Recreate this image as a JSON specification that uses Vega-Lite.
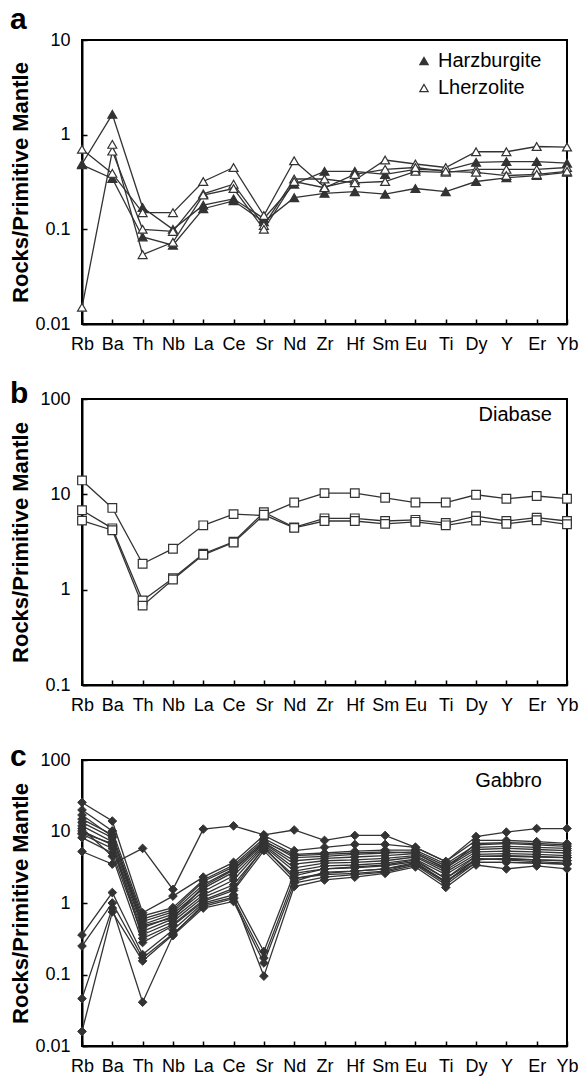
{
  "$schema": "https://vega.github.io/schema/vega-lite/v6.json",
  "background": "white",
  "padding": {"left": 7, "top": 4, "right": 3, "bottom": 0},
  "spacing": 75,
  "bounds": "flush",
  "config": {
    "font": "Liberation Sans",
    "view": {"stroke": "black", "strokeWidth": 2},
    "axis": {
      "domainColor": "black", "domainWidth": 2, "tickColor": "black", "tickWidth": 1.5,
      "labelFont": "Liberation Sans", "labelFontSize": 18, "labelColor": "black",
      "titleFont": "Liberation Sans", "titleFontSize": 22, "titleFontWeight": "bold", "titleColor": "black",
      "grid": false
    },
    "axisX": {"labelAngle": 0, "labelOverlap": false, "tickSize": -5, "labelPadding": 16, "title": null},
    "axisY": {"tickSize": -5, "labelPadding": 17, "format": "~g", "titleX": -50},
    "title": {"anchor": "start", "frame": "group", "dx": -72, "fontSize": 30, "fontWeight": "bold", "font": "Liberation Sans", "color": "black", "baseline": "alphabetic", "offset": 0}
  },
  "datasets": {
    "a": [
      {"s":"H1","t":"Harzburgite","el":"Rb","v":0.49},{"s":"H1","t":"Harzburgite","el":"Ba","v":1.64},{"s":"H1","t":"Harzburgite","el":"Th","v":0.17},{"s":"H1","t":"Harzburgite","el":"Nb","v":0.10},{"s":"H1","t":"Harzburgite","el":"La","v":0.18},{"s":"H1","t":"Harzburgite","el":"Ce","v":0.21},{"s":"H1","t":"Harzburgite","el":"Sr","v":0.13},{"s":"H1","t":"Harzburgite","el":"Nd","v":0.30},{"s":"H1","t":"Harzburgite","el":"Zr","v":0.41},{"s":"H1","t":"Harzburgite","el":"Hf","v":0.41},{"s":"H1","t":"Harzburgite","el":"Sm","v":0.38},{"s":"H1","t":"Harzburgite","el":"Eu","v":0.43},{"s":"H1","t":"Harzburgite","el":"Ti","v":0.42},{"s":"H1","t":"Harzburgite","el":"Dy","v":0.51},{"s":"H1","t":"Harzburgite","el":"Y","v":0.52},{"s":"H1","t":"Harzburgite","el":"Er","v":0.52},{"s":"H1","t":"Harzburgite","el":"Yb","v":0.50},
      {"s":"H2","t":"Harzburgite","el":"Rb","v":0.48},{"s":"H2","t":"Harzburgite","el":"Ba","v":0.345},{"s":"H2","t":"Harzburgite","el":"Th","v":0.083},{"s":"H2","t":"Harzburgite","el":"Nb","v":0.068},{"s":"H2","t":"Harzburgite","el":"La","v":0.165},{"s":"H2","t":"Harzburgite","el":"Ce","v":0.20},{"s":"H2","t":"Harzburgite","el":"Sr","v":0.12},{"s":"H2","t":"Harzburgite","el":"Nd","v":0.216},{"s":"H2","t":"Harzburgite","el":"Zr","v":0.24},{"s":"H2","t":"Harzburgite","el":"Hf","v":0.25},{"s":"H2","t":"Harzburgite","el":"Sm","v":0.235},{"s":"H2","t":"Harzburgite","el":"Eu","v":0.27},{"s":"H2","t":"Harzburgite","el":"Ti","v":0.25},{"s":"H2","t":"Harzburgite","el":"Dy","v":0.32},{"s":"H2","t":"Harzburgite","el":"Y","v":0.35},{"s":"H2","t":"Harzburgite","el":"Er","v":0.37},{"s":"H2","t":"Harzburgite","el":"Yb","v":0.40},
      {"s":"L1","t":"Lherzolite","el":"Rb","v":0.70},{"s":"L1","t":"Lherzolite","el":"Ba","v":0.39},{"s":"L1","t":"Lherzolite","el":"Th","v":0.15},{"s":"L1","t":"Lherzolite","el":"Nb","v":0.15},{"s":"L1","t":"Lherzolite","el":"La","v":0.32},{"s":"L1","t":"Lherzolite","el":"Ce","v":0.45},{"s":"L1","t":"Lherzolite","el":"Sr","v":0.14},{"s":"L1","t":"Lherzolite","el":"Nd","v":0.53},{"s":"L1","t":"Lherzolite","el":"Zr","v":0.28},{"s":"L1","t":"Lherzolite","el":"Hf","v":0.33},{"s":"L1","t":"Lherzolite","el":"Sm","v":0.54},{"s":"L1","t":"Lherzolite","el":"Eu","v":0.49},{"s":"L1","t":"Lherzolite","el":"Ti","v":0.45},{"s":"L1","t":"Lherzolite","el":"Dy","v":0.66},{"s":"L1","t":"Lherzolite","el":"Y","v":0.66},{"s":"L1","t":"Lherzolite","el":"Er","v":0.75},{"s":"L1","t":"Lherzolite","el":"Yb","v":0.74},
      {"s":"L2","t":"Lherzolite","el":"Rb","v":0.015},{"s":"L2","t":"Lherzolite","el":"Ba","v":0.67},{"s":"L2","t":"Lherzolite","el":"Th","v":0.10},{"s":"L2","t":"Lherzolite","el":"Nb","v":0.095},{"s":"L2","t":"Lherzolite","el":"La","v":0.237},{"s":"L2","t":"Lherzolite","el":"Ce","v":0.30},{"s":"L2","t":"Lherzolite","el":"Sr","v":0.11},{"s":"L2","t":"Lherzolite","el":"Nd","v":0.34},{"s":"L2","t":"Lherzolite","el":"Zr","v":0.34},{"s":"L2","t":"Lherzolite","el":"Hf","v":0.31},{"s":"L2","t":"Lherzolite","el":"Sm","v":0.32},{"s":"L2","t":"Lherzolite","el":"Eu","v":0.41},{"s":"L2","t":"Lherzolite","el":"Ti","v":0.40},{"s":"L2","t":"Lherzolite","el":"Dy","v":0.43},{"s":"L2","t":"Lherzolite","el":"Y","v":0.43},{"s":"L2","t":"Lherzolite","el":"Er","v":0.43},{"s":"L2","t":"Lherzolite","el":"Yb","v":0.45},
      {"s":"L3","t":"Lherzolite","el":"Ba","v":0.79},{"s":"L3","t":"Lherzolite","el":"Th","v":0.054},{"s":"L3","t":"Lherzolite","el":"Nb","v":0.073},{"s":"L3","t":"Lherzolite","el":"La","v":0.23},{"s":"L3","t":"Lherzolite","el":"Ce","v":0.27},{"s":"L3","t":"Lherzolite","el":"Sr","v":0.10},{"s":"L3","t":"Lherzolite","el":"Nd","v":0.32},{"s":"L3","t":"Lherzolite","el":"Zr","v":0.275},{"s":"L3","t":"Lherzolite","el":"Hf","v":0.38},{"s":"L3","t":"Lherzolite","el":"Sm","v":0.43},{"s":"L3","t":"Lherzolite","el":"Eu","v":0.45},{"s":"L3","t":"Lherzolite","el":"Ti","v":0.41},{"s":"L3","t":"Lherzolite","el":"Dy","v":0.40},{"s":"L3","t":"Lherzolite","el":"Y","v":0.37},{"s":"L3","t":"Lherzolite","el":"Er","v":0.38},{"s":"L3","t":"Lherzolite","el":"Yb","v":0.41}
    ],
    "b": [
      {"s":"D1","el":"Rb","v":14.0},{"s":"D1","el":"Ba","v":7.2},{"s":"D1","el":"Th","v":1.87},{"s":"D1","el":"Nb","v":2.69},{"s":"D1","el":"La","v":4.73},{"s":"D1","el":"Ce","v":6.2},{"s":"D1","el":"Sr","v":6.0},{"s":"D1","el":"Nd","v":8.2},{"s":"D1","el":"Zr","v":10.3},{"s":"D1","el":"Hf","v":10.3},{"s":"D1","el":"Sm","v":9.2},{"s":"D1","el":"Eu","v":8.2},{"s":"D1","el":"Ti","v":8.2},{"s":"D1","el":"Dy","v":9.9},{"s":"D1","el":"Y","v":9.0},{"s":"D1","el":"Er","v":9.6},{"s":"D1","el":"Yb","v":9.0},
      {"s":"D2","el":"Rb","v":6.8},{"s":"D2","el":"Ba","v":4.4},{"s":"D2","el":"Th","v":0.77},{"s":"D2","el":"Nb","v":1.32},{"s":"D2","el":"La","v":2.38},{"s":"D2","el":"Ce","v":3.18},{"s":"D2","el":"Sr","v":6.5},{"s":"D2","el":"Nd","v":4.5},{"s":"D2","el":"Zr","v":5.6},{"s":"D2","el":"Hf","v":5.6},{"s":"D2","el":"Sm","v":5.25},{"s":"D2","el":"Eu","v":5.4},{"s":"D2","el":"Ti","v":5.0},{"s":"D2","el":"Dy","v":5.9},{"s":"D2","el":"Y","v":5.25},{"s":"D2","el":"Er","v":5.7},{"s":"D2","el":"Yb","v":5.25},
      {"s":"D3","el":"Rb","v":5.3},{"s":"D3","el":"Ba","v":4.2},{"s":"D3","el":"Th","v":0.68},{"s":"D3","el":"Nb","v":1.28},{"s":"D3","el":"La","v":2.32},{"s":"D3","el":"Ce","v":3.12},{"s":"D3","el":"Sr","v":6.1},{"s":"D3","el":"Nd","v":4.45},{"s":"D3","el":"Zr","v":5.25},{"s":"D3","el":"Hf","v":5.25},{"s":"D3","el":"Sm","v":4.9},{"s":"D3","el":"Eu","v":5.15},{"s":"D3","el":"Ti","v":4.73},{"s":"D3","el":"Dy","v":5.3},{"s":"D3","el":"Y","v":4.9},{"s":"D3","el":"Er","v":5.35},{"s":"D3","el":"Yb","v":4.85}
    ],
    "c": [
      {"s":"G0","el":"Rb","v":5.25},{"s":"G0","el":"Ba","v":3.5},{"s":"G0","el":"Th","v":5.8},{"s":"G0","el":"Nb","v":1.55},{"s":"G0","el":"La","v":10.8},{"s":"G0","el":"Ce","v":12},{"s":"G0","el":"Sr","v":9.0},{"s":"G0","el":"Nd","v":10.5},{"s":"G0","el":"Zr","v":7.5},{"s":"G0","el":"Hf","v":8.8},{"s":"G0","el":"Sm","v":8.8},{"s":"G0","el":"Eu","v":6.0},{"s":"G0","el":"Ti","v":3.8},{"s":"G0","el":"Dy","v":8.5},{"s":"G0","el":"Y","v":9.8},{"s":"G0","el":"Er","v":11},{"s":"G0","el":"Yb","v":11},
      {"s":"G1","el":"Rb","v":25.5},{"s":"G1","el":"Ba","v":14},{"s":"G1","el":"Th","v":0.73},{"s":"G1","el":"Nb","v":1.25},{"s":"G1","el":"La","v":2.3},{"s":"G1","el":"Ce","v":3.7},{"s":"G1","el":"Sr","v":8.8},{"s":"G1","el":"Nd","v":5.4},{"s":"G1","el":"Zr","v":6.0},{"s":"G1","el":"Hf","v":6.6},{"s":"G1","el":"Sm","v":6.6},{"s":"G1","el":"Eu","v":6.0},{"s":"G1","el":"Ti","v":3.8},{"s":"G1","el":"Dy","v":7.5},{"s":"G1","el":"Y","v":7.5},{"s":"G1","el":"Er","v":7.2},{"s":"G1","el":"Yb","v":6.8},
      {"s":"G2","el":"Rb","v":20},{"s":"G2","el":"Ba","v":10.2},{"s":"G2","el":"Th","v":0.66},{"s":"G2","el":"Nb","v":0.86},{"s":"G2","el":"La","v":2.1},{"s":"G2","el":"Ce","v":3.4},{"s":"G2","el":"Sr","v":8.0},{"s":"G2","el":"Nd","v":4.8},{"s":"G2","el":"Zr","v":5.0},{"s":"G2","el":"Hf","v":5.3},{"s":"G2","el":"Sm","v":5.5},{"s":"G2","el":"Eu","v":5.5},{"s":"G2","el":"Ti","v":3.5},{"s":"G2","el":"Dy","v":6.5},{"s":"G2","el":"Y","v":6.8},{"s":"G2","el":"Er","v":6.5},{"s":"G2","el":"Yb","v":6.2},
      {"s":"G3","el":"Rb","v":14.9},{"s":"G3","el":"Ba","v":9.0},{"s":"G3","el":"Th","v":0.60},{"s":"G3","el":"Nb","v":0.80},{"s":"G3","el":"La","v":2.0},{"s":"G3","el":"Ce","v":3.2},{"s":"G3","el":"Sr","v":7.5},{"s":"G3","el":"Nd","v":4.3},{"s":"G3","el":"Zr","v":4.5},{"s":"G3","el":"Hf","v":4.8},{"s":"G3","el":"Sm","v":5.0},{"s":"G3","el":"Eu","v":5.2},{"s":"G3","el":"Ti","v":3.3},{"s":"G3","el":"Dy","v":6.0},{"s":"G3","el":"Y","v":6.2},{"s":"G3","el":"Er","v":6.0},{"s":"G3","el":"Yb","v":5.8},
      {"s":"G4","el":"Rb","v":13.4},{"s":"G4","el":"Ba","v":8.2},{"s":"G4","el":"Th","v":0.55},{"s":"G4","el":"Nb","v":0.75},{"s":"G4","el":"La","v":1.8},{"s":"G4","el":"Ce","v":3.0},{"s":"G4","el":"Sr","v":7.0},{"s":"G4","el":"Nd","v":3.9},{"s":"G4","el":"Zr","v":4.2},{"s":"G4","el":"Hf","v":4.4},{"s":"G4","el":"Sm","v":4.6},{"s":"G4","el":"Eu","v":4.9},{"s":"G4","el":"Ti","v":3.1},{"s":"G4","el":"Dy","v":5.6},{"s":"G4","el":"Y","v":5.8},{"s":"G4","el":"Er","v":5.6},{"s":"G4","el":"Yb","v":5.4},
      {"s":"G5","el":"Rb","v":12.0},{"s":"G5","el":"Ba","v":7.2},{"s":"G5","el":"Th","v":0.50},{"s":"G5","el":"Nb","v":0.70},{"s":"G5","el":"La","v":1.6},{"s":"G5","el":"Ce","v":2.7},{"s":"G5","el":"Sr","v":6.8},{"s":"G5","el":"Nd","v":3.5},{"s":"G5","el":"Zr","v":3.9},{"s":"G5","el":"Hf","v":4.0},{"s":"G5","el":"Sm","v":4.2},{"s":"G5","el":"Eu","v":4.6},{"s":"G5","el":"Ti","v":2.9},{"s":"G5","el":"Dy","v":5.2},{"s":"G5","el":"Y","v":5.3},{"s":"G5","el":"Er","v":5.2},{"s":"G5","el":"Yb","v":5.0},
      {"s":"G6","el":"Rb","v":10.2},{"s":"G6","el":"Ba","v":6.5},{"s":"G6","el":"Th","v":0.45},{"s":"G6","el":"Nb","v":0.65},{"s":"G6","el":"La","v":1.45},{"s":"G6","el":"Ce","v":2.4},{"s":"G6","el":"Sr","v":6.5},{"s":"G6","el":"Nd","v":3.1},{"s":"G6","el":"Zr","v":3.6},{"s":"G6","el":"Hf","v":3.7},{"s":"G6","el":"Sm","v":3.9},{"s":"G6","el":"Eu","v":4.4},{"s":"G6","el":"Ti","v":2.7},{"s":"G6","el":"Dy","v":4.8},{"s":"G6","el":"Y","v":4.9},{"s":"G6","el":"Er","v":4.8},{"s":"G6","el":"Yb","v":4.6},
      {"s":"G7","el":"Rb","v":9.2},{"s":"G7","el":"Ba","v":5.8},{"s":"G7","el":"Th","v":0.40},{"s":"G7","el":"Nb","v":0.60},{"s":"G7","el":"La","v":1.3},{"s":"G7","el":"Ce","v":2.1},{"s":"G7","el":"Sr","v":6.2},{"s":"G7","el":"Nd","v":2.8},{"s":"G7","el":"Zr","v":3.3},{"s":"G7","el":"Hf","v":3.4},{"s":"G7","el":"Sm","v":3.6},{"s":"G7","el":"Eu","v":4.1},{"s":"G7","el":"Ti","v":2.5},{"s":"G7","el":"Dy","v":4.5},{"s":"G7","el":"Y","v":4.5},{"s":"G7","el":"Er","v":4.4},{"s":"G7","el":"Yb","v":4.3},
      {"s":"G8","el":"Rb","v":8.2},{"s":"G8","el":"Ba","v":5.0},{"s":"G8","el":"Th","v":0.36},{"s":"G8","el":"Nb","v":0.55},{"s":"G8","el":"La","v":1.2},{"s":"G8","el":"Ce","v":1.8},{"s":"G8","el":"Sr","v":5.8},{"s":"G8","el":"Nd","v":2.4},{"s":"G8","el":"Zr","v":3.0},{"s":"G8","el":"Hf","v":3.1},{"s":"G8","el":"Sm","v":3.3},{"s":"G8","el":"Eu","v":3.8},{"s":"G8","el":"Ti","v":2.2},{"s":"G8","el":"Dy","v":4.1},{"s":"G8","el":"Y","v":4.1},{"s":"G8","el":"Er","v":4.0},{"s":"G8","el":"Yb","v":3.9},
      {"s":"G9","el":"Rb","v":11},{"s":"G9","el":"Ba","v":4.5},{"s":"G9","el":"Th","v":0.28},{"s":"G9","el":"Nb","v":0.48},{"s":"G9","el":"La","v":1.05},{"s":"G9","el":"Ce","v":1.5},{"s":"G9","el":"Sr","v":5.4},{"s":"G9","el":"Nd","v":2.0},{"s":"G9","el":"Zr","v":2.7},{"s":"G9","el":"Hf","v":2.8},{"s":"G9","el":"Sm","v":3.0},{"s":"G9","el":"Eu","v":3.5},{"s":"G9","el":"Ti","v":2.0},{"s":"G9","el":"Dy","v":3.7},{"s":"G9","el":"Y","v":3.7},{"s":"G9","el":"Er","v":3.6},{"s":"G9","el":"Yb","v":3.5},
      {"s":"G10","el":"Rb","v":0.357},{"s":"G10","el":"Ba","v":1.4},{"s":"G10","el":"Th","v":0.19},{"s":"G10","el":"Nb","v":0.42},{"s":"G10","el":"La","v":1.0},{"s":"G10","el":"Ce","v":1.3},{"s":"G10","el":"Sr","v":0.21},{"s":"G10","el":"Nd","v":2.6},{"s":"G10","el":"Zr","v":3.0},{"s":"G10","el":"Hf","v":3.2},{"s":"G10","el":"Sm","v":3.4},{"s":"G10","el":"Eu","v":4.0},{"s":"G10","el":"Ti","v":2.2},{"s":"G10","el":"Dy","v":4.5},{"s":"G10","el":"Y","v":4.6},{"s":"G10","el":"Er","v":4.5},{"s":"G10","el":"Yb","v":4.3},
      {"s":"G11","el":"Rb","v":0.25},{"s":"G11","el":"Ba","v":1.0},{"s":"G11","el":"Th","v":0.17},{"s":"G11","el":"Nb","v":0.37},{"s":"G11","el":"La","v":0.9},{"s":"G11","el":"Ce","v":1.15},{"s":"G11","el":"Sr","v":0.17},{"s":"G11","el":"Nd","v":2.2},{"s":"G11","el":"Zr","v":2.6},{"s":"G11","el":"Hf","v":2.8},{"s":"G11","el":"Sm","v":3.0},{"s":"G11","el":"Eu","v":3.7},{"s":"G11","el":"Ti","v":2.0},{"s":"G11","el":"Dy","v":4.0},{"s":"G11","el":"Y","v":4.2},{"s":"G11","el":"Er","v":4.0},{"s":"G11","el":"Yb","v":3.9},
      {"s":"G12","el":"Rb","v":0.046},{"s":"G12","el":"Ba","v":0.85},{"s":"G12","el":"Th","v":0.041},{"s":"G12","el":"Nb","v":0.35},{"s":"G12","el":"La","v":0.85},{"s":"G12","el":"Ce","v":1.05},{"s":"G12","el":"Sr","v":0.145},{"s":"G12","el":"Nd","v":1.9},{"s":"G12","el":"Zr","v":2.3},{"s":"G12","el":"Hf","v":2.5},{"s":"G12","el":"Sm","v":2.7},{"s":"G12","el":"Eu","v":3.4},{"s":"G12","el":"Ti","v":1.8},{"s":"G12","el":"Dy","v":3.7},{"s":"G12","el":"Y","v":3.7},{"s":"G12","el":"Er","v":3.6},{"s":"G12","el":"Yb","v":3.5},
      {"s":"G13","el":"Rb","v":0.016},{"s":"G13","el":"Ba","v":0.75},{"s":"G13","el":"Th","v":0.155},{"s":"G13","el":"Nb","v":0.36},{"s":"G13","el":"La","v":0.95},{"s":"G13","el":"Ce","v":1.2},{"s":"G13","el":"Sr","v":0.095},{"s":"G13","el":"Nd","v":1.7},{"s":"G13","el":"Zr","v":2.1},{"s":"G13","el":"Hf","v":2.3},{"s":"G13","el":"Sm","v":2.6},{"s":"G13","el":"Eu","v":3.2},{"s":"G13","el":"Ti","v":1.65},{"s":"G13","el":"Dy","v":3.4},{"s":"G13","el":"Y","v":3.0},{"s":"G13","el":"Er","v":3.3},{"s":"G13","el":"Yb","v":3.0},
      {"s":"G14","el":"Rb","v":17},{"s":"G14","el":"Ba","v":8.5},{"s":"G14","el":"Th","v":0.48},{"s":"G14","el":"Nb","v":0.62},{"s":"G14","el":"La","v":1.7},{"s":"G14","el":"Ce","v":2.9},{"s":"G14","el":"Sr","v":7.2},{"s":"G14","el":"Nd","v":4.6},{"s":"G14","el":"Zr","v":4.8},{"s":"G14","el":"Hf","v":5.0},{"s":"G14","el":"Sm","v":5.2},{"s":"G14","el":"Eu","v":5.0},{"s":"G14","el":"Ti","v":3.0},{"s":"G14","el":"Dy","v":6.8},{"s":"G14","el":"Y","v":7.0},{"s":"G14","el":"Er","v":6.8},{"s":"G14","el":"Yb","v":6.5},
      {"s":"G15","el":"Rb","v":9.5},{"s":"G15","el":"Ba","v":6.8},{"s":"G15","el":"Th","v":0.32},{"s":"G15","el":"Nb","v":0.50},{"s":"G15","el":"La","v":1.1},{"s":"G15","el":"Ce","v":1.6},{"s":"G15","el":"Sr","v":6.0},{"s":"G15","el":"Nd","v":2.2},{"s":"G15","el":"Zr","v":2.5},{"s":"G15","el":"Hf","v":2.6},{"s":"G15","el":"Sm","v":2.8},{"s":"G15","el":"Eu","v":3.6},{"s":"G15","el":"Ti","v":1.9},{"s":"G15","el":"Dy","v":4.2},{"s":"G15","el":"Y","v":4.0},{"s":"G15","el":"Er","v":3.8},{"s":"G15","el":"Yb","v":3.6}
    ],
    "labb": [{"label": "Diabase", "el": "Yb", "v": 68}],
    "labc": [{"label": "Gabbro", "el": "Yb", "v": 51}]
  },
  "vconcat": [
    {
      "width": 485, "height": 284,
      "title": {"text": "a", "dy": 8},
      "data": {"name": "a"},
      "encoding": {
        "x": {"field": "el", "type": "ordinal", "scale": {"type": "point", "padding": 0, "domain": ["Rb","Ba","Th","Nb","La","Ce","Sr","Nd","Zr","Hf","Sm","Eu","Ti","Dy","Y","Er","Yb"]}},
        "y": {"field": "v", "type": "quantitative", "scale": {"type": "log", "domain": [0.01, 10]}, "axis": {"title": "Rocks/Primitive Mantle", "values": [0.01, 0.1, 1, 10]}}
      },
      "layer": [
        {"mark": {"type": "line", "color": "#333333", "strokeWidth": 1.3}, "encoding": {"detail": {"field": "s"}, "order": {"value": null}}},
        {"mark": {"type": "point", "shape": "triangle-up", "filled": true, "size": 80, "stroke": "#333333", "strokeWidth": 1.2, "opacity": 1},
         "encoding": {"fill": {"field": "t", "type": "nominal", "scale": {"domain": ["Harzburgite", "Lherzolite"], "range": ["#333333", "white"]},
           "legend": {"title": null, "orient": "none", "legendX": 332, "legendY": 11, "symbolType": "triangle-up", "symbolStrokeColor": "#333333", "symbolStrokeWidth": 1.2, "symbolSize": 70, "labelFontSize": 20, "labelFont": "Liberation Sans", "labelColor": "black", "rowPadding": 7, "padding": 0}}}}
      ]
    },
    {
      "width": 485, "height": 286,
      "title": {"text": "b", "dy": 23},
      "data": {"name": "b"},
      "encoding": {
        "x": {"field": "el", "type": "ordinal", "scale": {"type": "point", "padding": 0, "domain": ["Rb","Ba","Th","Nb","La","Ce","Sr","Nd","Zr","Hf","Sm","Eu","Ti","Dy","Y","Er","Yb"]}},
        "y": {"field": "v", "type": "quantitative", "scale": {"type": "log", "domain": [0.1, 100]}, "axis": {"title": "Rocks/Primitive Mantle", "values": [0.1, 1, 10, 100]}}
      },
      "layer": [
        {"mark": {"type": "line", "color": "#333333", "strokeWidth": 1.3}, "encoding": {"detail": {"field": "s"}, "order": {"value": null}}},
        {"mark": {"type": "point", "shape": "square", "filled": true, "fill": "white", "size": 75, "stroke": "#333333", "strokeWidth": 1.2, "opacity": 1}},
        {"data": {"name": "labb"}, "mark": {"type": "text", "align": "right", "baseline": "middle", "dx": -15, "fontSize": 20, "font": "Liberation Sans", "fill": "black"},
         "encoding": {"text": {"field": "label", "type": "nominal"}}}
      ]
    },
    {
      "width": 485, "height": 286,
      "title": {"text": "c", "dy": 25},
      "data": {"name": "c"},
      "encoding": {
        "x": {"field": "el", "type": "ordinal", "scale": {"type": "point", "padding": 0, "domain": ["Rb","Ba","Th","Nb","La","Ce","Sr","Nd","Zr","Hf","Sm","Eu","Ti","Dy","Y","Er","Yb"]}},
        "y": {"field": "v", "type": "quantitative", "scale": {"type": "log", "domain": [0.01, 100]}, "axis": {"title": "Rocks/Primitive Mantle", "values": [0.01, 0.1, 1, 10, 100]}}
      },
      "layer": [
        {"mark": {"type": "line", "color": "#333333", "strokeWidth": 1.3}, "encoding": {"detail": {"field": "s"}, "order": {"value": null}}},
        {"mark": {"type": "point", "shape": "diamond", "filled": true, "fill": "#333333", "size": 75, "stroke": "#333333", "strokeWidth": 1, "opacity": 1}},
        {"data": {"name": "labc"}, "mark": {"type": "text", "align": "right", "baseline": "middle", "dx": -25, "fontSize": 20, "font": "Liberation Sans", "fill": "black"},
         "encoding": {"text": {"field": "label", "type": "nominal"}}}
      ]
    }
  ]
}
